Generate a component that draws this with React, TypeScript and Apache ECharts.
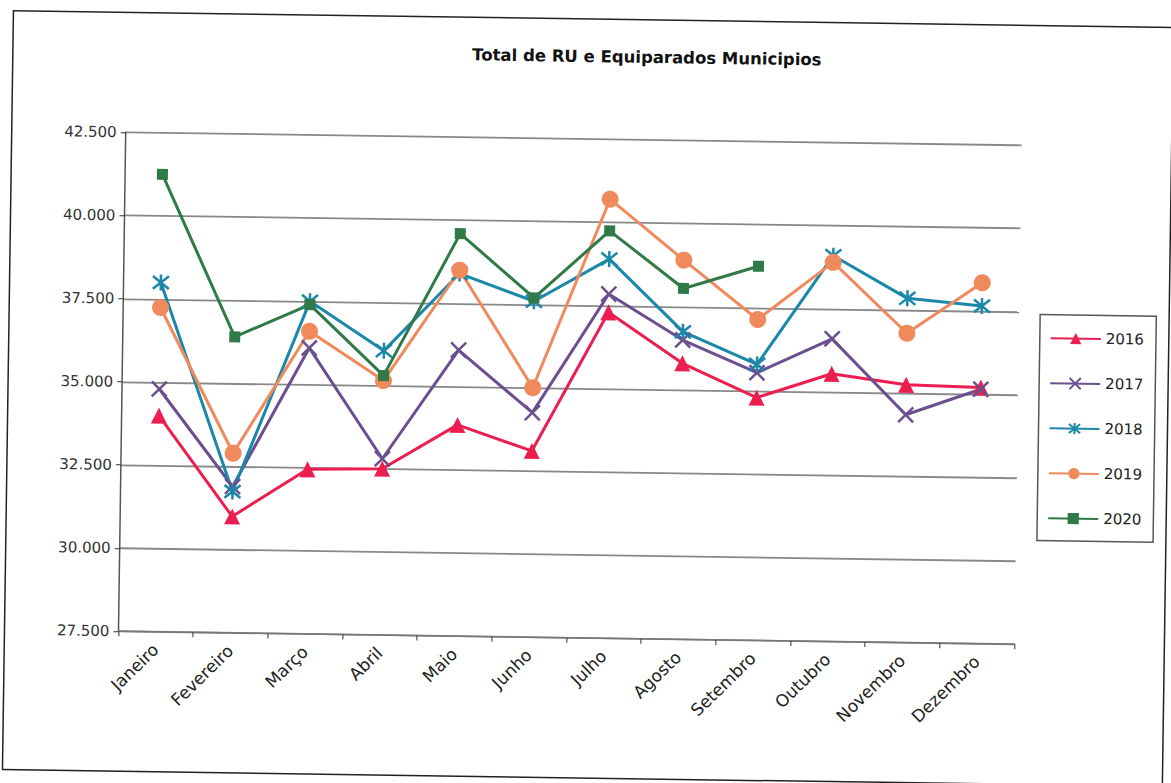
import React, { useEffect, useRef } from "react";
import * as echarts from "echarts";

const months = ["Janeiro", "Fevereiro", "Março", "Abril", "Maio", "Junho", "Julho", "Agosto", "Setembro", "Outubro", "Novembro", "Dezembro"];
const yTicks = [27500, 30000, 32500, 35000, 37500, 40000, 42500];
const s2016 = [34000, 31000, 32450, 32500, 33850, 33100, 37300, 35800, 34800, 35550, 35250, 35200];
const s2017 = [34800, 31900, 36100, 32800, 36100, 34250, 37850, 36500, 35550, 36600, 34350, 35150];
const s2018 = [38000, 31750, 37500, 36050, 38400, 37600, 38900, 36750, 35800, 39100, 37850, 37650];
const s2019 = [37250, 32900, 36600, 35150, 38500, 35000, 40700, 38900, 37150, 38900, 36800, 38350];
const s2020 = [41250, 36400, 37400, 35300, 39600, 37700, 39750, 38050, 38750, null, null, null];

const X_PATH = "path://M0,0L10,10M10,0L0,10";
const AST_PATH = "path://M1,1L9,9M9,1L1,9M5,0L5,10";
const FONT = "DejaVu Sans, Arial, sans-serif";

function fmt(v: number) {
  const s = String(Math.round(v));
  return s.slice(0, s.length - 3) + "." + s.slice(s.length - 3);
}

function mk(name: string, data: (number | null)[], color: string, symbol: string, size: number, stroke: boolean) {
  return {
    name,
    type: "line",
    data,
    symbol,
    symbolSize: size,
    showAllSymbol: true,
    connectNulls: false,
    lineStyle: { color, width: 3 },
    itemStyle: stroke
      ? { color, borderColor: color, borderWidth: 2.5 }
      : { color, borderWidth: 0 },
    emphasis: { disabled: true },
  };
}

export default function App() {
  const ref = useRef<HTMLDivElement>(null);
  useEffect(() => {
    if (!ref.current) return;
    const chart = echarts.init(ref.current, null, { renderer: "svg" });
    chart.setOption({
      animation: false,
      backgroundColor: "#ffffff",
      textStyle: { fontFamily: FONT },
      title: {
        text: "Total de RU e Equiparados Municipios",
        left: 642,
        top: 48,
        padding: 0,
        textAlign: "center",
        textStyle: { fontSize: 16.5, fontWeight: "bold", color: "#111", fontFamily: FONT },
      },
      graphic: [
        {
          type: "rect",
          shape: { x: 8, y: 19, width: 1160, height: 759 },
          style: { fill: "none", stroke: "#222", lineWidth: 1.5 },
          silent: true,
        },
      ],
      legend: {
        orient: "vertical",
        left: 1039,
        top: 308,
        padding: [16, 12, 15, 10],
        itemWidth: 50,
        itemHeight: 14,
        itemGap: 30,
        borderColor: "#555",
        borderWidth: 1.5,
        textStyle: { fontSize: 15, color: "#222", fontFamily: FONT },
        data: ["2016", "2017", "2018", "2019", "2020"],
      },
      grid: { left: 122, right: 153, top: 139, bottom: 145, containLabel: false },
      xAxis: {
        type: "category",
        data: months,
        boundaryGap: true,
        axisLine: { lineStyle: { color: "#777", width: 1.5 } },
        axisTick: { show: true, length: 5, lineStyle: { color: "#333" } },
        axisLabel: { rotate: 45, fontSize: 17, color: "#222", margin: 15, interval: 0, fontFamily: FONT },
        splitLine: { show: false },
      },
      yAxis: {
        type: "value",
        min: yTicks[0],
        max: yTicks[yTicks.length - 1],
        interval: 2500,
        axisLine: { show: true, lineStyle: { color: "#555", width: 1.5 } },
        axisTick: { show: true, length: 5, lineStyle: { color: "#333" } },
        axisLabel: { fontSize: 15, color: "#333", margin: 9, fontFamily: FONT, formatter: (v: number) => fmt(v) },
        splitLine: { show: true, lineStyle: { color: "#888", width: 1.8 } },
      },
      series: [
        mk("2016", s2016, "#ec1e50", "triangle", 16, false),
        mk("2017", s2017, "#6b4f8f", X_PATH, 15, true),
        mk("2018", s2018, "#1b87a9", AST_PATH, 16, true),
        mk("2019", s2019, "#f08a5d", "circle", 17, false),
        mk("2020", s2020, "#2f7a47", "rect", 11, false),
      ],
    });
    return () => chart.dispose();
  }, []);
  return (
    <div
      ref={ref}
      style={{ position: "absolute", left: 0, top: 0, width: 1171, height: 783, transform: "rotate(0.83deg)", background: "#fff" }}
    />
  );
}
